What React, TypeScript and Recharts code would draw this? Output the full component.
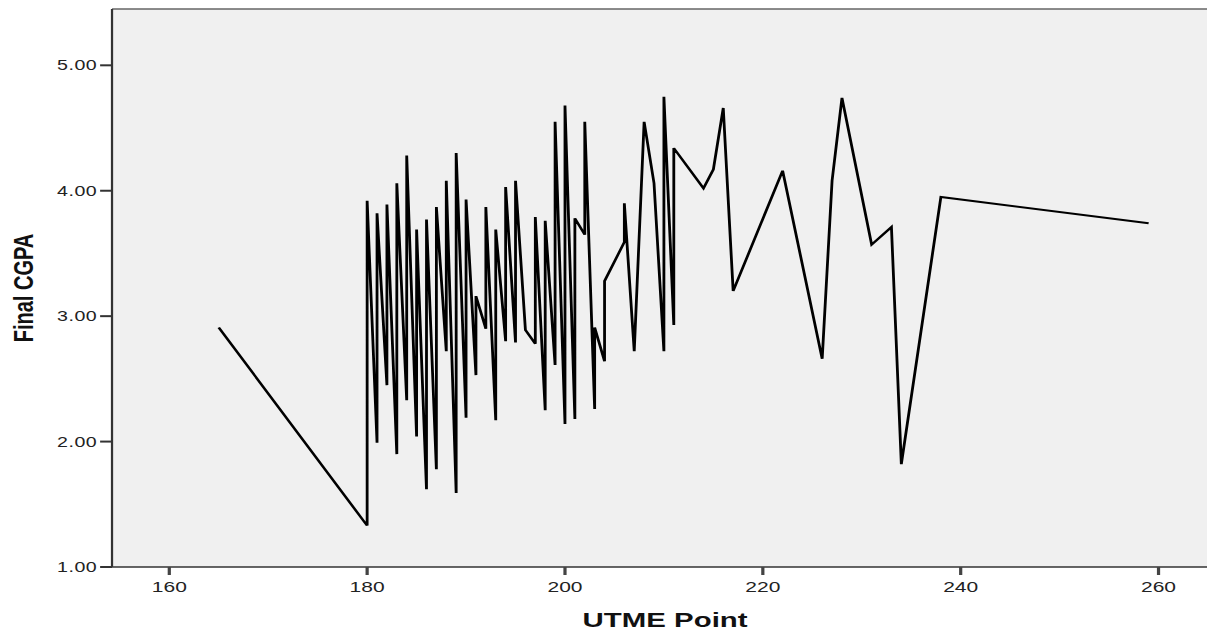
import React from "react";
import { CartesianGrid, Line, LineChart, ReferenceLine, XAxis, YAxis } from "recharts";

// UTME score per student, in the order SPSS joins the points
const utme = [
  165, 180, 180, 181, 181, 182, 182, 183, 183, 184, 184, 185, 185, 186, 186, 187, 187, 188, 188,
  189, 189, 190, 190, 191, 191, 192, 192, 193, 193, 194, 194, 195, 195, 196, 197, 197, 198, 198,
  199, 199, 200, 200, 201, 201, 202, 202, 203, 203, 204, 204, 206, 206, 207, 208, 209, 210, 210,
  211, 211, 214, 215, 216, 217, 222, 226, 227, 228, 231, 233, 234, 238, 259,
];

const cgpa = [
  2.91, 1.33, 3.92, 1.99, 3.82, 2.45, 3.89, 1.9, 4.06, 2.33, 4.28, 2.04, 3.69, 1.62, 3.77, 1.78,
  3.87, 2.72, 4.08, 1.59, 4.3, 2.19, 3.93, 2.53, 3.16, 2.9, 3.87, 2.17, 3.69, 2.8, 4.03, 2.79, 4.08,
  2.89, 2.78, 3.79, 2.25, 3.76, 2.61, 4.55, 2.14, 4.68, 2.18, 3.78, 3.65, 4.55, 2.26, 2.91, 2.64,
  3.28, 3.59, 3.9, 2.72, 4.55, 4.06, 2.72, 4.75, 2.93, 4.34, 4.02, 4.17, 4.66, 3.2, 4.16, 2.66,
  4.08, 4.74, 3.57, 3.71, 1.82, 3.95, 3.74,
];

const xTicks = [160, 180, 200, 220, 240, 260];
const yTicks = [1, 2, 3, 4, 5];

const data = utme.map((u, i) => ({ utme: u, cgpa: cgpa[i] }));

const W = 862;
const H = 633;
const STRETCH = 1207 / W; // source image is stretched sideways
const Y_MAX = 5.449;
const FONT = "'Liberation Sans', Arial, sans-serif";

export default function App() {
  return (
    <div
      style={{
        position: "absolute",
        left: 0,
        top: 0,
        width: W,
        height: H,
        background: "#fff",
        transform: `scaleX(${STRETCH})`,
        transformOrigin: "0 0",
      }}
    >
      <LineChart width={W} height={H} data={data} margin={{ top: 9, right: 0, bottom: 0, left: 0 }}>
        <CartesianGrid horizontal={false} vertical={false} fill="#f0f0f0" />
        <XAxis
          dataKey="utme"
          type="number"
          domain={[154.21, 264.9]}
          ticks={xTicks}
          allowDataOverflow
          height={66}
          tickSize={8}
          tickMargin={6}
          tick={{ fontSize: 15, fill: "#222", fontFamily: FONT }}
          tickLine={{ stroke: "#444", strokeWidth: 2.3 }}
          axisLine={{ stroke: "#333", strokeWidth: 1.7 }}
          label={{
            content: (p: any) => {
              const vb = p.viewBox;
              return (
                <text
                  x={vb.x + vb.width / 2 + 4}
                  y={vb.y + 60}
                  textAnchor="middle"
                  fontFamily={FONT}
                  fontWeight="bold"
                  fontSize={21}
                  fill="#111"
                >
                  UTME Point
                </text>
              );
            },
          }}
        />
        <YAxis
          type="number"
          domain={[1, Y_MAX]}
          ticks={yTicks}
          allowDataOverflow
          width={80}
          tickSize={8.5}
          tickMargin={2}
          tickFormatter={(v: number) => v.toFixed(2)}
          tick={{ fontSize: 14, fill: "#222", fontFamily: FONT, letterSpacing: 0.4 }}
          tickLine={{ stroke: "#333", strokeWidth: 2 }}
          axisLine={{ stroke: "#333", strokeWidth: 1.6 }}
          label={{
            content: (p: any) => {
              const vb = p.viewBox;
              const cx = 23.8;
              const cy = vb.y + vb.height / 2;
              return (
                <text
                  x={cx}
                  y={cy}
                  textAnchor="middle"
                  transform={`rotate(-90 ${cx} ${cy})`}
                  fontFamily={FONT}
                  fontWeight="bold"
                  fontSize={20}
                  fill="#111"
                >
                  Final CGPA
                </text>
              );
            },
          }}
        />
        <ReferenceLine y={Y_MAX} stroke="#666" strokeWidth={1.5} ifOverflow="visible" />
        <Line
          type="linear"
          dataKey="cgpa"
          stroke="#000"
          strokeWidth={2}
          dot={false}
          activeDot={false}
          isAnimationActive={false}
        />
      </LineChart>
    </div>
  );
}
